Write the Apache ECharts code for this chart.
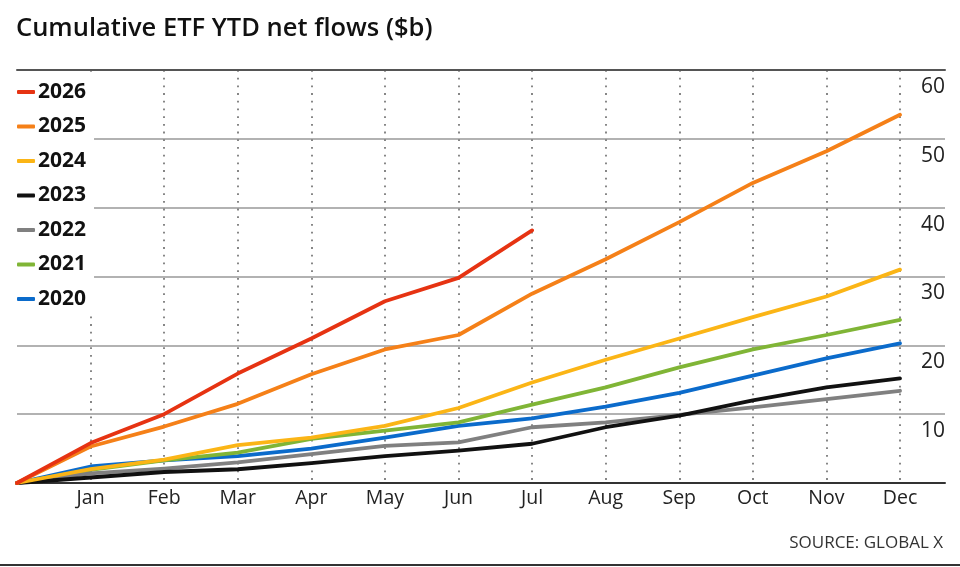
<!DOCTYPE html>
<html>
<head>
<meta charset="utf-8">
<script src="https://cdn.jsdelivr.net/npm/echarts@6/dist/echarts.min.js"></script>
<style>
html,body{margin:0;padding:0;background:#fff;}
#chart{width:960px;height:567px;}
</style>
</head>
<body>
<div id="chart"></div>
<script>
const titleText = 'Cumulative ETF YTD net flows ($b)';
const sourceText = 'SOURCE: GLOBAL X';
const categories = ['', 'Jan', 'Feb', 'Mar', 'Apr', 'May', 'Jun', 'Jul', 'Aug', 'Sep', 'Oct', 'Nov', 'Dec'];
const seriesNames = ['2026', '2025', '2024', '2023', '2022', '2021', '2020'];
const seriesColors = ['#e63312', '#f58018', '#fbb516', '#111111', '#808080', '#80b536', '#0b6bcb'];
const y2026 = [0, 5.8, 10.0, 15.9, 21.0, 26.4, 29.8, 36.7, null, null, null, null, null];
const y2025 = [0, 5.3, 8.2, 11.5, 15.8, 19.4, 21.5, 27.5, 32.5, 37.9, 43.6, 48.2, 53.5];
const y2024 = [0, 2.0, 3.4, 5.5, 6.6, 8.3, 10.9, 14.6, 17.9, 21.0, 24.1, 27.1, 31.0];
const y2023 = [0, 0.8, 1.6, 2.0, 2.9, 3.9, 4.7, 5.7, 8.1, 9.8, 12.0, 13.9, 15.2];
const y2022 = [0, 1.4, 2.1, 3.0, 4.2, 5.4, 5.9, 8.1, 8.8, 9.9, 11.0, 12.2, 13.4];
const y2021 = [0, 1.9, 3.3, 4.4, 6.4, 7.6, 8.8, 11.4, 13.9, 16.8, 19.4, 21.5, 23.7];
const y2020 = [0, 2.4, 3.3, 3.9, 5.0, 6.6, 8.3, 9.4, 11.1, 13.1, 15.6, 18.1, 20.3];
const seriesData = [y2026, y2025, y2024, y2023, y2022, y2021, y2020];

const FONT = '"Open Sans", "Noto Sans", sans-serif';
const chart = echarts.init(document.getElementById('chart'), null, {renderer: 'canvas'});

const series = [];
for (let i = seriesNames.length - 1; i >= 0; i--) {
  series.push({
    name: seriesNames[i],
    type: 'line',
    xAxisIndex: 2,
    yAxisIndex: 1,
    data: seriesData[i],
    symbol: 'none',
    connectNulls: false,
    lineStyle: {width: 3.8, color: seriesColors[i], cap: 'round', join: 'round'},
    itemStyle: {color: seriesColors[i]},
    z: 10 + (seriesNames.length - i)
  });
}

const option = {
  animation: false,
  backgroundColor: '#fff',
  title: {
    text: titleText,
    left: 11,
    top: 11,
    textStyle: {fontFamily: FONT, fontSize: 25.5, fontWeight: 600, color: '#111'}
  },
  legend: {
    orient: 'vertical',
    left: 15,
    top: 75,
    padding: [5, 8, 5, 2],
    backgroundColor: '#fff',
    itemWidth: 18,
    itemHeight: 4,
    itemGap: 10.5,
    icon: 'roundRect',
    data: seriesNames,
    textStyle: {fontFamily: FONT, fontSize: 21, fontWeight: 'bold', color: '#111', lineHeight: 24, padding: [0, 0, 0, -2]},
    z: 20
  },
  grid: [
    {left: 17, right: 15, top: 70, bottom: 84},
    {left: 17, right: 60, top: 70, bottom: 84}
  ],
  xAxis: [
    {
      gridIndex: 0, type: 'value', min: 0, max: 1, position: 'bottom',
      axisLine: {show: true, lineStyle: {color: '#333', width: 2}},
      axisTick: {show: false}, axisLabel: {show: false}, splitLine: {show: false}
    },
    {
      gridIndex: 0, type: 'value', min: 0, max: 1, position: 'top',
      axisLine: {show: true, lineStyle: {color: '#555', width: 2}},
      axisTick: {show: false}, axisLabel: {show: false}, splitLine: {show: false}
    },
    {
      gridIndex: 1, type: 'category', data: categories, boundaryGap: false,
      axisLine: {show: false}, axisTick: {show: false},
      axisLabel: {fontFamily: FONT, fontSize: 19.5, color: '#222', margin: 5, interval: 0},
      splitLine: {show: true, showMinLine: false, showMaxLine: true,
        lineStyle: {color: '#7a7a7a', width: 1.8, type: [1.8, 5.9], cap: 'butt'}}
    }
  ],
  yAxis: [
    {
      gridIndex: 0, type: 'value', min: 0, max: 60, interval: 10, position: 'right',
      axisLine: {show: false}, axisTick: {show: false},
      axisLabel: {
        inside: true, margin: 0, fontFamily: FONT, fontSize: 21, color: '#222',
        verticalAlign: 'top', lineHeight: 22, padding: [6, 0, 0, 0],
        showMinLabel: false,
        formatter: v => (v === 0 ? '' : String(v))
      },
      splitLine: {show: true, showMinLine: false, showMaxLine: false, lineStyle: {color: '#999', width: 1.6}}
    },
    {
      gridIndex: 1, type: 'value', min: 0, max: 60, interval: 10,
      axisLine: {show: false}, axisTick: {show: false}, axisLabel: {show: false}, splitLine: {show: false}
    }
  ],
  graphic: [
    {type: 'text', right: 17, top: 535, style: {text: sourceText, font: '17px ' + FONT, fill: '#333'}},
    {type: 'line', shape: {x1: 0, y1: 565, x2: 960, y2: 565}, style: {stroke: '#333', lineWidth: 2}}
  ],
  series: series
};
chart.setOption(option);
</script>
</body>
</html>
